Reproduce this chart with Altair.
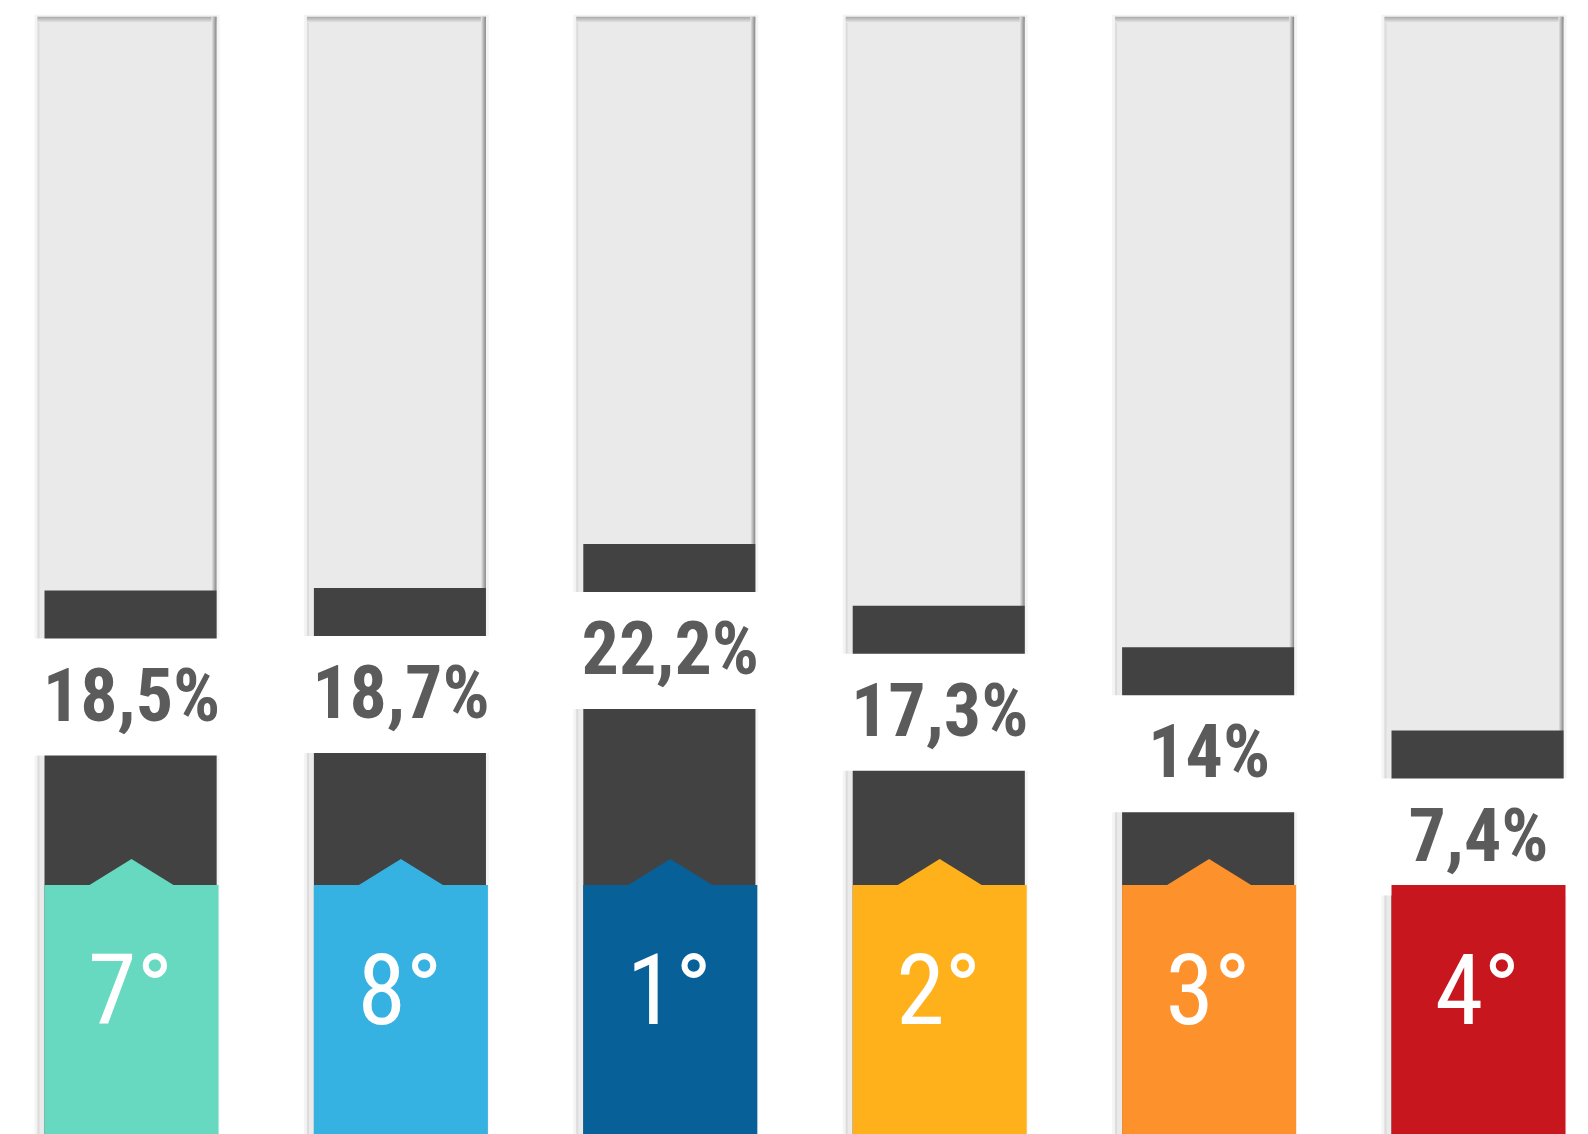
import altair as alt
import pandas as pd

# ---- data ----
ranks = ["7°", "8°", "1°", "2°", "3°", "4°"]
values = [18.5, 18.7, 22.2, 17.3, 14.0, 7.4]
labels = ["18,5%", "18,7%", "22,2%", "17,3%", "14%", "7,4%"]
colors = ["#66D9C0", "#35B1E2", "#086098", "#FFB11C", "#FD922D", "#C8161E"]

# ---- layout levels (in value units of the y scale) ----
TRACK_TOP = 64.0
FLOOR = -24.6
CEIL = 64.7
BASE = -4.85

df = pd.DataFrame({"rank": ranks, "value": values, "label": labels, "color": colors})
df["top"] = TRACK_TOP
df["floor"] = FLOOR
df["base"] = BASE

W, H = 1572, 1126
FONT = "Roboto Condensed, Liberation Sans Narrow, DejaVu Sans Condensed, Roboto, sans-serif"

xs = alt.Scale(domain=ranks, range=[-12.2, 1604.2], paddingInner=0, paddingOuter=0)
ys = alt.Scale(domain=[FLOOR, CEIL], range=[H, 0], nice=False, zero=False)
X = alt.X("rank:N", scale=xs, axis=None, sort=ranks)

def Y(f):
    return alt.Y(f + ":Q", scale=ys, axis=None)

base = alt.Chart(df)

grad_v = alt.LinearGradient(
    gradient="linear", x1=0, x2=0, y1=0, y2=1,
    stops=[alt.GradientStop(color="#a9a9a9", offset=0),
           alt.GradientStop(color="#eaeaea", offset=1)])
grad_h = alt.LinearGradient(
    gradient="linear", x1=0, x2=1, y1=0, y2=0,
    stops=[alt.GradientStop(color="#eaeaea", offset=0),
           alt.GradientStop(color="#858585", offset=1)])

halo = base.mark_bar(color="#f4f4f4", width=185, xOffset=-3.5, yOffset=-2).encode(
    x=X, y=Y("top"), y2="floor:Q")
track = base.mark_bar(color="#eaeaea", width=179, xOffset=-3.5).encode(
    x=X, y=Y("top"), y2="floor:Q")
left_line = base.mark_bar(color="#dcdcdc", width=2, xOffset=-92).encode(
    x=X, y=Y("top"), y2="floor:Q")
top_shadow = base.mark_bar(color=grad_v, width=179, xOffset=-3.5, y2Offset=6).encode(
    x=X, y=Y("top"), y2="top:Q")
right_shadow = base.mark_bar(color=grad_h, width=5, xOffset=83.5).encode(
    x=X, y=Y("top"), y2="floor:Q")

dark = base.mark_bar(color="#424242", width=172).encode(
    x=X, y=Y("value"), y2="floor:Q")

chevron = base.mark_point(
    shape="M-1,0.2 L-1,0 L0,-0.62 L1,0 L1,0.2 Z", size=7056, filled=True,
    opacity=1, strokeWidth=0, xOffset=1).encode(
    x=X, y=Y("base"), color=alt.Color("color:N", scale=None))

band = base.mark_bar(color="white", width=194, xOffset=-3.5, yOffset=48, y2Offset=165).encode(
    x=X, y=Y("value"), y2="value:Q")

block = base.mark_bar(width=174, xOffset=1).encode(
    x=X, y=Y("base"), y2="floor:Q", color=alt.Color("color:N", scale=None))

pct = base.mark_text(font=FONT, fontSize=74, fontWeight="bold", color="#5b5b5b",
                     dy=130, baseline="alphabetic", align="center", dx=1).encode(
    x=X, y=Y("value"), text="label:N")

rank_txt = base.mark_text(font=FONT, fontSize=98, fontWeight="normal", color="white",
                          dy=139, baseline="alphabetic", align="center").encode(
    x=X, y=Y("base"), text="rank:N")

chart = alt.layer(
    halo, track, left_line, top_shadow, right_shadow, dark, chevron, band, block, pct, rank_txt
).properties(
    width=W, height=H, padding=0, autosize="none", background="white"
).configure_view(strokeWidth=0)

chart.save("out.html", embed_options={"renderer": "svg", "actions": False})
